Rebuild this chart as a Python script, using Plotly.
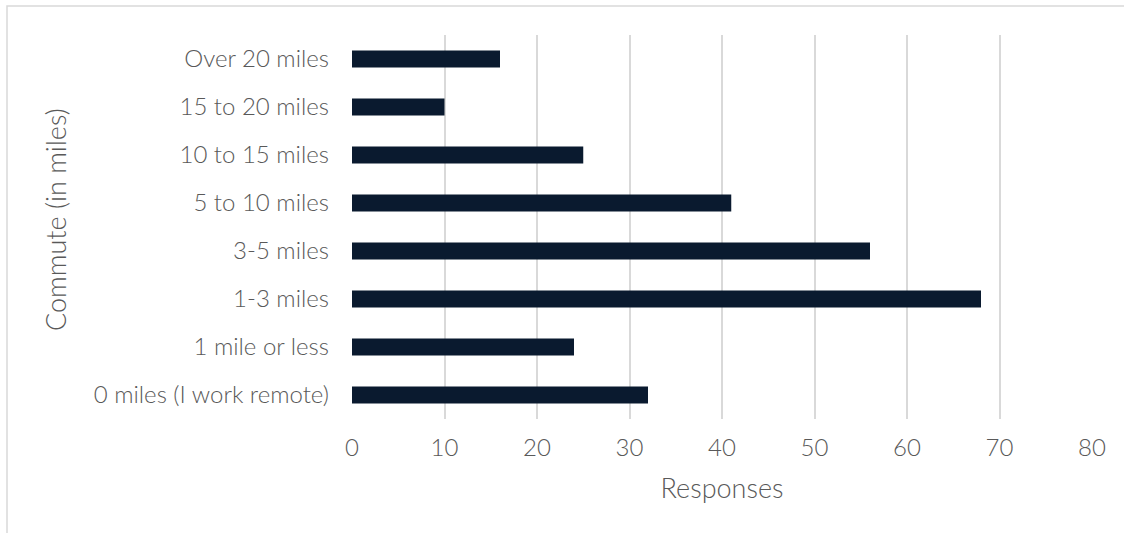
import plotly.graph_objects as go

# Survey responses by commute distance (bottom to top)
categories = [
    "0 miles (I work remote)",
    "1 mile or less",
    "1-3 miles",
    "3-5 miles",
    "5 to 10 miles",
    "10 to 15 miles",
    "15 to 20 miles",
    "Over 20 miles",
]
responses = [32, 24, 68, 56, 41, 25, 10, 16]
x_ticks = [0, 10, 20, 30, 40, 50, 60, 70, 80]

W, H = 1124, 533
ML, MR, MT, MB = 352, 32, 35, 114
pw, ph = W - ML - MR, H - MT - MB

def px_x(p):
    return (p - ML) / pw

def px_y(p):
    return (H - MB - p) / ph

text_color = "#595959"
grid_color = "#d9d9d9"
font_family = "Lato"
tick_font = dict(size=24, color=text_color, family=font_family, weight=300)
title_font = dict(size=27, color=text_color, family=font_family, weight=300)

fig = go.Figure(
    go.Bar(
        x=responses,
        y=categories,
        orientation="h",
        marker=dict(color="#0a1a2f", line=dict(width=0)),
        width=0.35,
    )
)

fig.update_layout(
    width=W,
    height=H,
    margin=dict(l=ML, r=MR, t=MT, b=MB),
    paper_bgcolor="white",
    plot_bgcolor="white",
    showlegend=False,
    font=dict(family=font_family, size=24, color=text_color, weight=300),
    xaxis=dict(
        range=[0, 80],
        tickvals=x_ticks,
        showgrid=True,
        gridcolor=grid_color,
        gridwidth=1.5,
        zeroline=False,
        showline=False,
        ticks="",
        ticklabelstandoff=12,
        tickfont=tick_font,
        title=dict(text="Responses", standoff=19, font=title_font),
        fixedrange=True,
    ),
    yaxis=dict(
        categoryorder="array",
        categoryarray=categories,
        range=[-0.5, len(categories) - 0.5],
        showgrid=False,
        showline=False,
        ticks="",
        ticklabelstandoff=22,
        tickfont=tick_font,
        fixedrange=True,
    ),
    annotations=[
        # vertical axis title
        dict(text="Commute (in miles)", xref="paper", yref="paper",
             x=px_x(55), y=px_y(220), xanchor="center", yanchor="middle",
             textangle=-90, showarrow=False, font=title_font),
    ],
    shapes=[
        # outer chart frame
        dict(type="rect", xref="paper", yref="paper",
             x0=px_x(7), x1=px_x(1135), y0=px_y(545), y1=px_y(6),
             line=dict(color=grid_color, width=1.5), layer="below"),
    ],
)

fig.write_html("out.html")
